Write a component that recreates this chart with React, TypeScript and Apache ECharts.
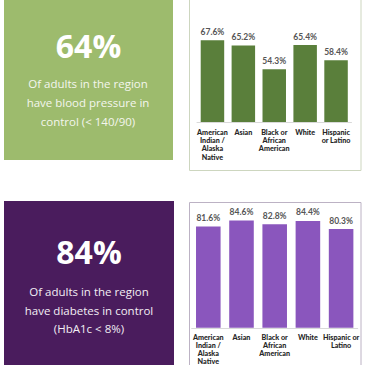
import React, { useEffect, useRef } from "react";
import * as echarts from "echarts";

const categories = [
  "American\nIndian /\nAlaska\nNative",
  "Asian",
  "Black or\nAfrican\nAmerican",
  "White",
  "Hispanic\nor Latino",
];
const categoriesBottom = [
  "American\nIndian /\nAlaska\nNative",
  "Asian",
  "Black or\nAfrican\nAmerican",
  "White",
  "Hispanic or\nLatino",
];
const bpValues = [67.6, 65.2, 54.3, 65.4, 58.4];
const diabetesValues = [81.6, 84.6, 82.8, 84.4, 80.3];
const bpHeadline = "64%";
const bpText = "Of adults in the region\nhave blood pressure in\ncontrol (< 140/90)";
const dbHeadline = "84%";
const dbText = "Of adults in the region\nhave diabetes in control\n(HbA1c < 8%)";

export default function App() {
  const ref = useRef<HTMLDivElement>(null);
  useEffect(() => {
    if (!ref.current) return;
    const chart = echarts.init(ref.current, null, { renderer: "svg" });
    const labelFont = "Lato, 'Open Sans', sans-serif";
    chart.setOption({
      animation: false,
      backgroundColor: "#ffffff",
      graphic: [
        { type: "rect", shape: { x: 4, y: -2, width: 169, height: 162 }, style: { fill: "#9dbb6d" } },
        { type: "rect", shape: { x: 189.5, y: -5, width: 171.5, height: 175.5 }, style: { fill: "none", stroke: "#cdd6bf", lineWidth: 1 } },
        { type: "rect", shape: { x: 4, y: 201, width: 170, height: 170 }, style: { fill: "#4a1c5d" } },
        { type: "rect", shape: { x: 189.5, y: 202.5, width: 171.5, height: 170 }, style: { fill: "none", stroke: "#bcb2c4", lineWidth: 1 } },
        {
          type: "text", x: 88.5, y: 45,
          style: { text: bpHeadline, fill: "#ffffff", font: "bold 32px 'Open Sans', sans-serif", align: "center", verticalAlign: "middle" },
        },
        {
          type: "text", x: 88, y: 102.5,
          style: { text: bpText, fill: "#f4f6ee", font: "11.5px 'Open Sans', sans-serif", align: "center", verticalAlign: "middle", lineHeight: 19 },
        },
        {
          type: "text", x: 89, y: 251.5,
          style: { text: dbHeadline, fill: "#ffffff", font: "bold 32px 'Open Sans', sans-serif", align: "center", verticalAlign: "middle" },
        },
        {
          type: "text", x: 89, y: 310,
          style: { text: dbText, fill: "#f2eef4", font: "11.5px 'Open Sans', sans-serif", align: "center", verticalAlign: "middle", lineHeight: 18.5 },
        },
      ],
      grid: [
        { left: 197, width: 154.5, top: 35, height: 87 },
        { left: 191.7, width: 166, top: 210, height: 120 },
      ],
      xAxis: [
        {
          type: "category", gridIndex: 0, data: categories,
          axisLine: { lineStyle: { color: "#d9d9d9" } }, axisTick: { show: false },
          axisLabel: { interval: 0, margin: 6, color: "#262626", fontFamily: labelFont, fontWeight: 900, fontSize: 7.2, lineHeight: 8.3, verticalAlign: "top" },
        },
        {
          type: "category", gridIndex: 1, data: categoriesBottom,
          axisLine: { lineStyle: { color: "#d9d9d9" } }, axisTick: { show: false },
          axisLabel: { interval: 0, margin: 6, color: "#262626", fontFamily: labelFont, fontWeight: 900, fontSize: 7.2, lineHeight: 7.8, verticalAlign: "top" },
        },
      ],
      yAxis: [
        { type: "value", gridIndex: 0, min: 30, max: 70, show: false, splitLine: { show: false } },
        { type: "value", gridIndex: 1, min: 30, max: 90, show: false, splitLine: { show: false } },
      ],
      series: [
        {
          type: "bar", xAxisIndex: 0, yAxisIndex: 0, data: bpValues, barCategoryGap: "24%",
          itemStyle: { color: "#5a7f3b" },
          label: { show: true, position: "top", distance: 4, formatter: "{c}%", color: "#555", fontFamily: labelFont, fontWeight: "bold", fontSize: 8.5 },
        },
        {
          type: "bar", xAxisIndex: 1, yAxisIndex: 1, data: diabetesValues, barCategoryGap: "26%",
          itemStyle: { color: "#8a56bd" },
          label: { show: true, position: "top", distance: 4, formatter: "{c}%", color: "#555", fontFamily: labelFont, fontWeight: "bold", fontSize: 8.5 },
        },
      ],
    });
    return () => chart.dispose();
  }, []);
  return <div ref={ref} style={{ position: "fixed", left: 0, top: 0, width: 365, height: 365 }} />;
}
